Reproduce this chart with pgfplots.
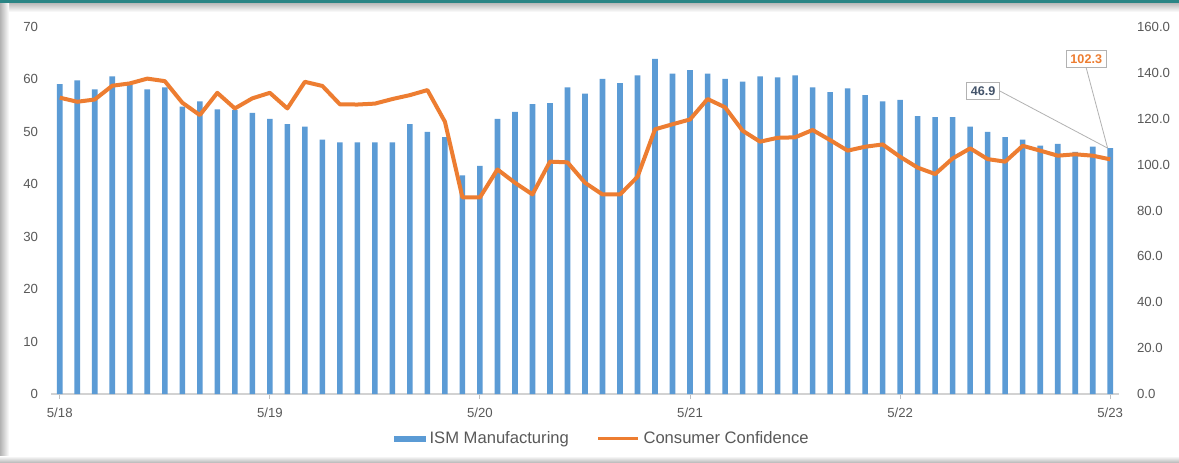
\documentclass[border=0pt]{standalone}
\usepackage{pgfplots}
\pgfplotsset{compat=1.18}
\usepackage{fontspec}
\setmainfont{Liberation Sans}
\definecolor{ismblue}{HTML}{5B9BD5}
\definecolor{ccorange}{HTML}{ED7D31}
\definecolor{lblgray}{HTML}{595959}
\definecolor{teal1}{HTML}{2A8585}
\definecolor{labdark}{HTML}{44546A}
\begin{document}
\begin{tikzpicture}[x=1pt,y=1pt]
% frame (1px = 0.5pt), picture 589.5 x 231
\fill[white] (0,0) rectangle (589.5,231);
\shade[top color=gray!55,bottom color=white] (0,225) rectangle (589.5,229.5);
\fill[teal1] (0,229.5) rectangle (589.5,231);
\shade[left color=gray!60,right color=white] (0,0) rectangle (4.5,229.5);
\shade[bottom color=gray!50,top color=white] (0,0) rectangle (589.5,3);
\pgfplotstableread{
x ism cc
0 59.1 129.2
1 59.8 127.4
2 58.1 128.4
3 60.6 134.4
4 59.0 135.4
5 58.1 137.5
6 58.5 136.4
7 54.8 127.0
8 55.8 121.6
9 54.3 131.3
10 54.2 124.5
11 53.6 128.9
12 52.5 131.3
13 51.5 124.5
14 51.0 136.1
15 48.5 134.3
16 48.0 126.3
17 48.0 126.2
18 48.0 126.6
19 48.0 128.6
20 51.5 130.3
21 50.0 132.5
22 49.0 118.7
23 41.7 85.7
24 43.5 85.7
25 52.5 97.9
26 53.8 92.1
27 55.3 87.0
28 55.5 101.3
29 58.5 101.0
30 57.3 92.1
31 60.1 87.0
32 59.3 87.0
33 60.8 94.7
34 63.9 115.4
35 61.1 117.6
36 61.8 119.7
37 61.1 128.6
38 60.1 125.0
39 59.6 114.8
40 60.6 110.0
41 60.4 111.7
42 60.8 111.9
43 58.5 115.1
44 57.6 110.7
45 58.3 106.1
46 57.0 107.8
47 55.8 108.8
48 56.1 103.4
49 53.0 98.7
50 52.8 95.9
51 52.8 102.7
52 51.0 107.1
53 50.0 102.4
54 49.0 101.3
55 48.5 108.2
56 47.4 106.1
57 47.7 103.9
58 46.2 104.5
59 47.2 103.9
60 46.9 102.3
}\datatable
\pgfplotsset{
  common/.style={
    at={(25.5pt,34pt)}, anchor=south west,
    scale only axis, width=534pt, height=183.5pt,
    xmin=-0.5, xmax=60.5,
    ymin=0,
    tick label style={font=\fontsize{6.6}{8}\selectfont, text=lblgray},
    /pgf/number format/assume math mode=true,
  }
}
\begin{axis}[common,
  ymax=70, ytick={0,10,...,70},
  axis y line*=left, axis x line*=bottom,
  y axis line style={draw=none},
  x axis line style={draw=gray!35, line width=0.6pt},
  ytick style={draw=none},
  xtick={0,12,24,36,48,60},
  xticklabels={5/18,5/19,5/20,5/21,5/22,5/23},
  xtick style={draw=gray!50, line width=0.5pt},
  tick align=outside, major tick length=2.5pt,
  yticklabel style={anchor=east, xshift=-0.5pt},
  xticklabel style={yshift=-1pt},
  legend style={at={(0.517,-0.122)}, anchor=center, draw=none, fill=none,
    legend columns=2, font=\fontsize{8.3}{9.5}\selectfont\color{lblgray},
    /tikz/every even column/.append style={column sep=12pt},
    legend cell align=left},
]
\addplot[ybar, bar width=2.8pt, fill=ismblue, draw=none,
  legend image code/.code={\fill[ismblue] (0pt,-1.4pt) rectangle (16pt,1.4pt);}]
  table[x=x, y=ism] {\datatable};
\addlegendentry{ISM Manufacturing}
\addlegendimage{legend image code/.code={\draw[ccorange, line width=1.3pt] (0pt,0pt) -- (20pt,0pt);}}
\addlegendentry{Consumer Confidence}
\node[draw=gray!60, fill=white, line width=0.4pt, inner sep=2pt,
  font=\fontsize{6.3}{7}\selectfont\bfseries, text=labdark] (lab1) at (52.74,57.8) {46.9};
\draw[gray!60, line width=0.4pt] (lab1.east) -- (59.85,46.9);
\end{axis}
\begin{axis}[common,
  ymax=160, ytick={0,20,...,160},
  axis y line*=right, axis x line=none,
  y axis line style={draw=none},
  ytick style={draw=none},
  yticklabel={\pgfmathprintnumber[fixed,fixed zerofill,precision=1]{\tick}},
  yticklabel style={anchor=west, xshift=5.5pt},
]
\addplot[ccorange, line width=2pt, line join=round, no markers]
  table[x=x, y=cc] {\datatable};
\node[draw=gray!60, fill=white, line width=0.4pt, inner sep=2pt,
  font=\fontsize{6.3}{7}\selectfont\bfseries, text=ccorange] (lab2) at (58.63,146.0) {102.3};
\draw[gray!60, line width=0.4pt] (lab2.south) -- (59.85,107.2);
\end{axis}
\end{tikzpicture}
\end{document}
